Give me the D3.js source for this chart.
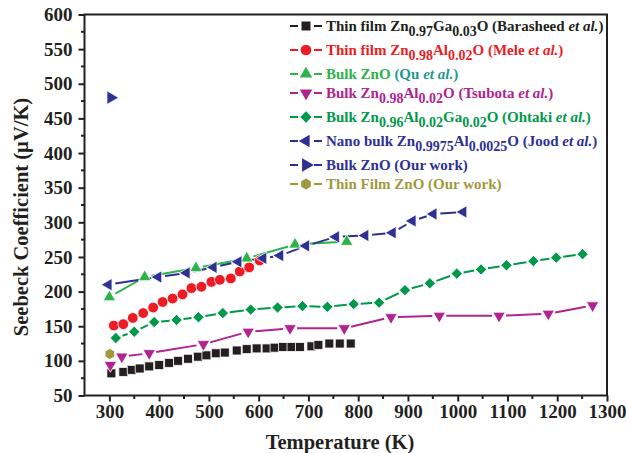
<!DOCTYPE html>
<html>
<head>
<meta charset="utf-8">
<script src="https://cdn.jsdelivr.net/npm/d3@7"></script>
<style>
  html, body { margin: 0; padding: 0; background: #fff; }
  svg { display: block; }
  text { font-family: "Liberation Serif", "Times New Roman", serif; font-weight: bold; }
</style>
</head>
<body>
<svg id="chart" width="626" height="453"></svg>
<script>
// Seebeck coefficient vs temperature for ZnO-based materials

const xTicks = [300, 400, 500, 600, 700, 800, 900, 1000, 1100, 1200, 1300];
const yTicks = [50, 100, 150, 200, 250, 300, 350, 400, 450, 500, 550, 600];

// Thin film Zn0.97Ga0.03O (Barasheed et al.)
const barasheedT = [304, 328, 345, 361, 380, 400, 420, 438, 458, 478, 495, 514, 532, 556, 576, 596, 616, 632, 649, 666, 683, 706, 720, 742, 763, 785];
const barasheedS = [82, 84, 87, 89, 92, 94, 97, 100, 103, 106, 108, 111, 112, 115, 117, 118, 118, 119, 120, 120, 120, 121, 123, 125, 125, 125];

// Thin film Zn0.98Al0.02O (Mele et al.)
const meleT = [309, 328, 347, 368, 388, 407, 427, 447, 465, 485, 505, 522, 544, 562, 581, 602];
const meleS = [151, 153, 162, 169, 177, 185, 190, 196, 205, 207, 214, 217, 219, 229, 235, 245];

// Bulk ZnO (Qu et al.)
const quT = [300, 371, 474, 576, 673, 777];
const quS = [192, 221, 234, 248, 268, 272];

// Bulk Zn0.98Al0.02O (Tsubota et al.)
const tsubotaT = [302, 325, 380, 489, 579, 663, 772, 866, 963, 1083, 1182, 1271];
const tsubotaS = [94, 106, 111, 124, 142, 147, 147, 163, 165, 165, 168, 180];

// Bulk Zn0.96Al0.02Ga0.02O (Ohtaki et al.)
const ohtakiT = [313, 350, 390, 435, 479, 528, 584, 638, 688, 738, 791, 842, 894, 944, 998, 1047, 1098, 1152, 1198, 1251];
const ohtakiS = [133, 142, 156, 159, 163, 169, 174, 177, 179, 178, 182, 184, 202, 212, 226, 232, 238, 244, 249, 254];

// Nano bulk Zn0.9975Al0.0025O (Jood et al.)
const joodT = [298, 398, 455, 509, 559, 609, 643, 695, 755, 814, 869, 909, 951, 1011];
const joodS = [210, 221, 227, 235, 243, 248, 252, 266, 279, 281, 285, 302, 312, 315];

// Bulk ZnO (our work)
const ourBulkT = [303];
const ourBulkS = [480];

// Thin film ZnO (our work)
const ourFilmT = [301];
const ourFilmS = [110];

const svg = d3.select("#chart");
const plotLeft = 84.5, plotRight = 607, plotTop = 14.5, plotBottom = 395.5;

const x = d3.scaleLinear().domain([250, 1300]).range([plotLeft, plotRight]);
const y = d3.scaleLinear().domain([50, 600]).range([plotBottom, plotTop]);

// marker shapes
const hexagon = {
  draw(ctx, size) {
    const r = Math.sqrt(size / (1.5 * Math.sqrt(3)));
    for (let i = 0; i < 6; i++) {
      const a = Math.PI / 6 + i * Math.PI / 3;
      const px = r * Math.cos(a), py = r * Math.sin(a);
      if (i === 0) ctx.moveTo(px, py); else ctx.lineTo(px, py);
    }
    ctx.closePath();
  }
};

const series = [
  { T: barasheedT, S: barasheedS, color: "#231f20", shape: d3.symbolSquare, size: 81, rot: 0, r: 4.5 },
  { T: meleT, S: meleS, color: "#ed1c24", shape: d3.symbolCircle, size: 90, rot: 0, r: 5.3 },
  { T: quT, S: quS, color: "#2db34a", shape: d3.symbolTriangle, size: 68, rot: 0, r: 5.5 },
  { T: tsubotaT, S: tsubotaS, color: "#b0248f", shape: d3.symbolTriangle, size: 68, rot: 180, r: 5.5 },
  { T: ohtakiT, S: ohtakiS, color: "#00984a", shape: d3.symbolSquare, size: 64, rot: 45, r: 5.5 },
  { T: joodT, S: joodS, color: "#2e3192", shape: d3.symbolTriangle, size: 68, rot: -90, r: 5.5 },
  { T: ourBulkT, S: ourBulkS, color: "#2e3192", shape: d3.symbolTriangle, size: 80, rot: 90, r: 6 },
  { T: ourFilmT, S: ourFilmS, color: "#a09a3c", shape: hexagon, size: 80, rot: 0, r: 5 }
];

// axis frame
svg.append("rect")
  .attr("x", plotLeft).attr("y", plotTop)
  .attr("width", plotRight - plotLeft).attr("height", plotBottom - plotTop)
  .attr("fill", "none").attr("stroke", "#231f20").attr("stroke-width", 2);

// bottom axis
const xAxis = d3.axisBottom(x).tickValues(xTicks).tickSize(6).tickPadding(3).tickFormat(d3.format("d"));
const gx = svg.append("g").attr("transform", `translate(0,${plotBottom})`).call(xAxis);
gx.select(".domain").remove();
gx.selectAll(".tick line").attr("stroke", "#231f20").attr("stroke-width", 2);
gx.selectAll(".tick text").attr("fill", "#231f20").style("font-size", "19px");
const xMinor = d3.range(350, 1300, 100);
svg.append("g").selectAll("line").data(xMinor).join("line")
  .attr("x1", d => x(d)).attr("x2", d => x(d))
  .attr("y1", plotBottom).attr("y2", plotBottom + 3.5)
  .attr("stroke", "#231f20").attr("stroke-width", 2);

// left axis
const yAxis = d3.axisLeft(y).tickValues(yTicks).tickSize(6).tickPadding(6).tickFormat(d3.format("d"));
const gy = svg.append("g").attr("transform", `translate(${plotLeft},0)`).call(yAxis);
gy.select(".domain").remove();
gy.selectAll(".tick line").attr("stroke", "#231f20").attr("stroke-width", 2);
gy.selectAll(".tick text").attr("fill", "#231f20").style("font-size", "19px");
const yMinor = d3.range(75, 600, 50);
svg.append("g").selectAll("line").data(yMinor).join("line")
  .attr("x1", plotLeft - 3.5).attr("x2", plotLeft)
  .attr("y1", d => y(d)).attr("y2", d => y(d))
  .attr("stroke", "#231f20").attr("stroke-width", 2);

// axis titles
svg.append("text")
  .attr("x", 340).attr("y", 449)
  .attr("text-anchor", "middle").attr("fill", "#231f20")
  .style("font-size", "20.5px").text("Temperature (K)");
svg.append("text")
  .attr("transform", `translate(28,217) rotate(-90)`)
  .attr("text-anchor", "middle").attr("fill", "#231f20")
  .style("font-size", "20.5px").text("Seebeck Coefficient (\u00b5V/K)");

// connecting lines, with a small gap around each marker
const plot = svg.append("g");
series.forEach(s => {
  const pts = s.T.map((t, i) => [x(t), y(s.S[i])]);
  const segs = [];
  for (let i = 0; i < pts.length - 1; i++) {
    const [x1, y1] = pts[i], [x2, y2] = pts[i + 1];
    const len = Math.hypot(x2 - x1, y2 - y1);
    const gap = s.r + 1.5;
    if (len > 2 * gap) {
      const ux = (x2 - x1) / len, uy = (y2 - y1) / len;
      segs.push([x1 + ux * gap, y1 + uy * gap, x2 - ux * gap, y2 - uy * gap]);
    }
  }
  plot.append("g").selectAll("line").data(segs).join("line")
    .attr("x1", d => d[0]).attr("y1", d => d[1])
    .attr("x2", d => d[2]).attr("y2", d => d[3])
    .attr("stroke", s.color).attr("stroke-width", 2);
});

// markers
series.forEach(s => {
  const sym = d3.symbol().type(s.shape).size(s.size);
  plot.append("g").selectAll("path").data(s.T.map((t, i) => [t, s.S[i]])).join("path")
    .attr("d", sym)
    .attr("transform", d => `translate(${x(d[0])},${y(d[1])}) rotate(${s.rot})`)
    .attr("fill", s.color)
    .attr("stroke", "#fff").attr("stroke-width", 0.8);
});

// legend
const legendRows = [
  { si: 0, parts: [["Thin film Zn"], ["0.97", "sub"], ["Ga"], ["0.03", "sub"], ["O (Barasheed "], ["et al.", "it"], [")"]] },
  { si: 1, parts: [["Thin film Zn"], ["0.98", "sub"], ["Al"], ["0.02", "sub"], ["O (Mele "], ["et al.", "it"], [")"]] },
  { si: 2, parts: [["Bulk ZnO "], ["(Qu ", "alt"], ["et al.", "it alt"], [")", "alt"]] },
  { si: 3, parts: [["Bulk Zn"], ["0.98", "sub"], ["Al"], ["0.02", "sub"], ["O (Tsubota "], ["et al.", "it"], [")"]] },
  { si: 4, parts: [["Bulk Zn"], ["0.96", "sub"], ["Al"], ["0.02", "sub"], ["Ga"], ["0.02", "sub"], ["O (Ohtaki "], ["et al.", "it"], [")"]] },
  { si: 5, parts: [["Nano bulk Zn"], ["0.9975", "sub"], ["Al"], ["0.0025", "sub"], ["O (Jood "], ["et al.", "it"], [")"]] },
  { si: 6, parts: [["Bulk ZnO (Our work)"]] },
  { si: 7, parts: [["Thin Film ZnO (Our work)"]] }
];
const legend = svg.append("g");
let ly = 26;
legendRows.forEach(row => {
  const s = series[row.si];
  const hasSub = row.parts.some(p => (p[1] || "").includes("sub"));
  legend.append("line").attr("x1", 290).attr("x2", 298).attr("y1", ly).attr("y2", ly)
    .attr("stroke", s.color).attr("stroke-width", 2);
  legend.append("line").attr("x1", 314).attr("x2", 322).attr("y1", ly).attr("y2", ly)
    .attr("stroke", s.color).attr("stroke-width", 2);
  legend.append("path")
    .attr("d", d3.symbol().type(s.shape).size(s.size)())
    .attr("transform", `translate(306,${ly}) rotate(${s.rot})`)
    .attr("fill", s.color);
  const t = legend.append("text").attr("x", 326).attr("y", ly + 5)
    .attr("fill", s.color).style("font-size", "15px");
  let shifted = false;
  row.parts.forEach(p => {
    const cls = p[1] || "";
    const sp = t.append("tspan").text(p[0]);
    if (cls.includes("sub") && !shifted) { sp.attr("dy", 4.5); shifted = true; }
    else if (!cls.includes("sub") && shifted) { sp.attr("dy", -4.5); shifted = false; }
    if (cls.includes("sub")) sp.style("font-size", "14px");
    if (cls.includes("it")) sp.style("font-style", "italic");
    if (cls.includes("alt")) sp.attr("fill", "#1f9a8f");
  });
  ly += hasSub ? 24 : 19;
});
</script>
</body>
</html>
